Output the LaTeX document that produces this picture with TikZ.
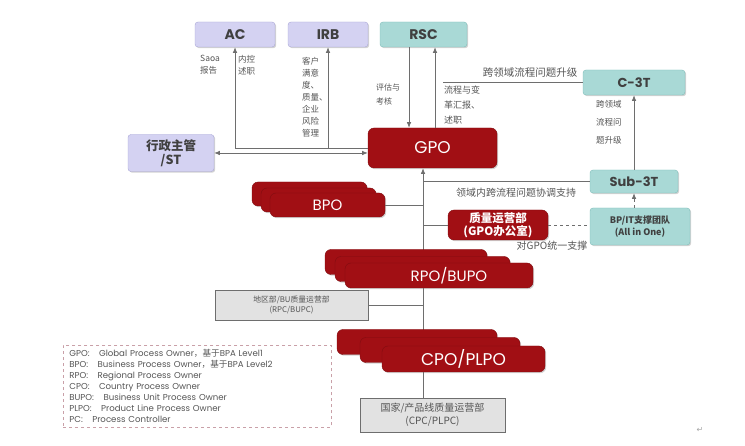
\documentclass[tikz,border=0pt]{standalone}
\usepackage{fontspec}
\setmainfont{Noto Sans CJK SC}
\newfontfamily\geo{Poppins}
\newfontfamily\symfont{DejaVu Sans}
\usetikzlibrary{arrows.meta,positioning,shadows}
\definecolor{lavfill}{HTML}{D4D2F2}
\definecolor{lavline}{HTML}{A9A7D6}
\definecolor{tealfill}{HTML}{A9D9D6}
\definecolor{tealline}{HTML}{7FBDB9}
\definecolor{gpored}{HTML}{A10F14}
\definecolor{greyfill}{HTML}{E2E2E2}
\definecolor{linegrey}{HTML}{6E6E6E}
\definecolor{txtgrey}{HTML}{555555}
\definecolor{legline}{HTML}{C9A0A8}
\tikzset{
softshadow/.style={drop shadow={shadow xshift=1.2pt,shadow yshift=-1.2pt,opacity=.35}},
lavbox/.style={draw=lavline,fill=lavfill,rounded corners=3pt,minimum height=25pt,minimum width=80pt,font=\geo\bfseries\fontsize{14}{14}\selectfont,text=black!75,softshadow},
tealbox/.style={draw=tealline,fill=tealfill,rounded corners=3pt,minimum height=24pt,minimum width=90pt,font=\geo\bfseries\fontsize{13}{13}\selectfont,text=black!75,softshadow},
redbox/.style={draw=gpored!80!black,fill=gpored,rounded corners=6pt,text=white,softshadow},
greybox/.style={draw=linegrey,fill=greyfill,align=center,font=\fontsize{7.8}{10}\selectfont,text=txtgrey,softshadow},
lbl/.style={font=\fontsize{8.5}{12}\selectfont,text=txtgrey,align=left,inner sep=0pt},
link/.style={draw=linegrey,line width=.8pt},
arrow/.style={link,-{Latex[length=2mm,width=1.6mm]}},
darrow/.style={link,{Latex[length=2mm,width=1.6mm]}-{Latex[length=2mm,width=1.6mm]}},
dashedarrow/.style={link,dashed,-{Latex[length=2mm,width=1.6mm]}}
}
\begin{document}
\begin{tikzpicture}[x=1pt,y=-1pt]
\useasboundingbox (0,0) rectangle (745,446);
\coordinate (spine) at (423,0);
\coordinate (spinebase) at (423,398);
% top boxes
\node[lavbox] (ac) at (235,34.5) {AC};
\node[lavbox] (irb) at (328,34.5) {IRB};
\node[tealbox,minimum width=87pt,minimum height=25pt,font=\geo\bfseries\fontsize{14}{14}\selectfont] (rsc) at (423.5,34.5) {RSC};
\node[lavbox,minimum width=86pt,minimum height=37pt,align=center,font=\bfseries\fontsize{12.5}{14}\selectfont] (admin) at (171,153) {行政主管\\/ST};
\node[redbox,minimum width=129pt,minimum height=40pt,font=\geo\fontsize{17}{17}\selectfont] (gpo) at (432.5,148) {GPO};
% right column
\node[tealbox,minimum width=102pt,minimum height=25pt] (c3t) at (634,82.5) {C-3T};
\node[tealbox,minimum width=88pt,minimum height=23pt] (sub) at (634,181.5) {Sub-3T};
\node[tealbox,minimum width=100pt,minimum height=37pt,align=center,font=\bfseries\fontsize{9}{12}\selectfont] (bpit) at (640,226.5) {BP/IT支撑团队\\(All in One)};
\coordinate (escend) at (443,82.5);
% connectors behind the red stacks
\draw[arrow] (gpo.west) -| (ac.south);
\draw[arrow] (irb.south |- gpo.west) -- (irb.south);
\draw[darrow] (admin.east) -- (admin.east -| gpo.west);
\draw[arrow] (rsc.south -| 409,0) -- (gpo.north -| 409,0);
\draw[arrow] (gpo.north -| 435,0) -- (rsc.south -| 435,0);
\draw[link] (c3t.west) -- (escend);
\draw[arrow] (sub.north) -- (c3t.south);
\draw[dashedarrow] (bpit.north -| sub.north) -- (sub.south);
\draw[link] (sub.west) -- (sub.west -| spine);
\draw[arrow] (spinebase) -- (gpo.south -| spine);
% BPO stack
\node[redbox,minimum width=115pt,minimum height=24pt] (bpo3) at (309.5,194) {};
\node[redbox,minimum width=115pt,minimum height=24pt] (bpo2) at (318.5,200) {};
\node[redbox,minimum width=115pt,minimum height=24pt,font=\geo\fontsize{15}{15}\selectfont] (bpo) at (327.5,205) {BPO};
\draw[link] (bpo.east) -- (bpo.east -| spine);
% quality office
\node[redbox,minimum width=100pt,minimum height=30pt,align=center,font=\bfseries\fontsize{11.5}{13}\selectfont,inner sep=1pt] (qo) at (498,225) {质量运营部\\(GPO办公室)};
\draw[link] (spine |- qo.west) -- (qo.west);
\draw[link,dashed] (qo.east) -- (qo.east -| bpit.west);
% RPO/BUPO stack
\node[redbox,minimum width=162pt,minimum height=25pt] (rpo3) at (406,262) {};
\node[redbox,minimum width=175pt,minimum height=25pt] (rpo2) at (422.5,269) {};
\node[redbox,minimum width=188pt,minimum height=25pt,font=\geo\fontsize{15}{15}\selectfont] (rpo) at (439,275.5) {\hspace*{20pt}RPO/BUPO};
\node[greybox,minimum width=153pt,minimum height=30pt] (rpc) at (291.5,305) {地区部/BU质量运营部\\(RPC/BUPC)};
\draw[link] (rpc.east) -- (rpc.east -| spine);
% CPO/PLPO stack
\node[redbox,minimum width=160pt,minimum height=25pt] (cpo3) at (417,342) {};
\node[redbox,minimum width=160pt,minimum height=25pt] (cpo2) at (440,350) {};
\node[redbox,minimum width=163pt,minimum height=26pt,font=\geo\fontsize{17}{17}\selectfont] (cpo) at (463.5,359) {CPO/PLPO};
\node[greybox,minimum width=145pt,minimum height=34pt,font=\fontsize{10}{13}\selectfont] (cpc) at (432.5,415) {国家/产品线质量运营部\\(CPC/PLPC)};
% labels
\node[lbl,anchor=north west] (saoa) at (200,55) {Saoa\\报告};
\node[lbl,anchor=north west] (ickt) at (238,55) {内控\\述职};
\node[lbl,anchor=north west] (irbtxt) at (302,57) {客户\\满意\\度、\\质量、\\企业\\风险\\管理};
\node[lbl,anchor=north west,font=\fontsize{8}{14}\selectfont] (evaltxt) at (376,84) {评估与\\考核};
\node[lbl,anchor=north west,font=\fontsize{9}{15}\selectfont] (reptxt) at (444,86) {流程与变\\革汇报、\\述职};
\node[lbl,font=\fontsize{10.5}{12}\selectfont] (esctxt) at (530,73) {跨领域流程问题升级};
\node[lbl,anchor=north west,font=\fontsize{8.5}{18}\selectfont] (esc2txt) at (596,100) {跨领域\\流程问\\题升级};
\node[lbl,font=\fontsize{10}{12}\selectfont] (coordtxt) at (516,193) {领域内跨流程问题协调支持};
\node[lbl,font=\fontsize{10}{12}\selectfont] (supptxt) at (552,246) {对GPO统一支撑};
% legend
\node[draw=legline,dashed,line width=.8pt,inner xsep=6pt,inner ysep=3pt,anchor=north west,align=left,text=txtgrey,font=\geo\fontsize{8.6}{11}\selectfont,text width=256pt,minimum height=82pt] (legend) at (63,345) {%
GPO:\hspace{1.1em}Global Process Owner{\rmfamily ，基于}BPA Level1\\
BPO:\hspace{1.1em}Business Process Owner{\rmfamily ，基于}BPA Level2\\
RPO:\hspace{1.1em}Regional Process Owner\\
CPO:\hspace{1.1em}Country Process Owner\\
BUPO:\hspace{1.1em}Business Unit Process Owner\\
PLPO:\hspace{1.1em}Product Line Process Owner\\
PC:\hspace{1.1em}Process Controller};
\node[text=black!35,font=\symfont\fontsize{8}{8}\selectfont] (retmark) at (700,430) {↵};
\end{tikzpicture}
\end{document}
